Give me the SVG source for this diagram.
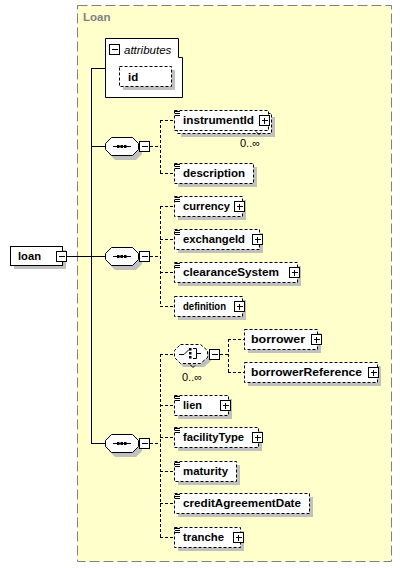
<svg xmlns="http://www.w3.org/2000/svg" width="402" height="568" viewBox="0 0 402 568">
<style>
.grp{fill:#FFFFCC;stroke:#808080;stroke-dasharray:10,4;stroke-width:1}
.sh{fill:#C0C0C0;stroke:none}
.el{fill:#fff;stroke:#000;stroke-dasharray:3,2;stroke-width:1}
.so{fill:#fff;stroke:#000;stroke-width:1}
.ln{stroke:#000;stroke-width:1;fill:none}
.dl{stroke:#000;stroke-width:1;fill:none;stroke-dasharray:3,2}
.t{font-family:"Liberation Sans",Arial,sans-serif;font-size:11.5px;font-weight:bold;fill:#000}
.it{font-family:"Liberation Sans",Arial,sans-serif;font-size:11.5px;font-style:italic;fill:#000}
.oc{font-family:"Liberation Sans",Arial,sans-serif;font-size:11px;fill:#000}
.ttl{font-family:"Liberation Sans",Arial,sans-serif;font-size:11.5px;font-weight:bold;fill:#808080}
</style>
<defs>
<g id="plus"><rect class="so" x="0.5" y="0.5" width="10" height="10"/><path class="ln" d="M3,5.5H9M5.5,3V9"/></g>
<g id="minus"><rect class="so" x="0.5" y="0.5" width="10" height="10"/><path class="ln" d="M3,5.5H9"/></g>
<g id="eq"><path class="ln" d="M1,1.5H6M1,3.5H6M1,5.5H6"/></g>
<g id="seq">
<polygon class="sh" points="10,4 31,4 37,10 37,17 31,23 10,23 4,17 4,10"/>
<polygon class="so" points="6.5,0.5 27.5,0.5 33.5,6.5 33.5,12.5 27.5,18.5 6.5,18.5 0.5,12.5 0.5,6.5"/>
<path class="ln" d="M8,9.5H26"/>
<rect x="12" y="8" width="2.5" height="3" fill="#000"/>
<rect x="15.5" y="8" width="2.5" height="3" fill="#000"/>
<rect x="19" y="8" width="2.5" height="3" fill="#000"/>
</g>
</defs>

<g id="Loan-group">
<rect class="grp" x="77.5" y="5.5" width="314" height="556"/>
<text class="ttl" x="83" y="21">Loan</text>
</g>

<g id="connectors">
<path class="ln" d="M67,256.5H105M91.5,68V443M91,68.5H105M91,146.5H105M91,443.5H105"/>
<path class="dl" d="M150,146.5H160.5M160.5,120V173M160,120.5H174M160,173.5H174"/>
<path class="dl" d="M150,256.5H160.5M160.5,206V306M160,206.5H174M160,239.5H174M160,272.5H174M160,306.5H174"/>
<path class="dl" d="M150,443.5H160.5M160.5,354V537M160,354.5H174M160,405.5H174M160,437.5H174M160,471.5H174M160,503.5H174M160,537.5H174"/>
<path class="dl" d="M220,354.5H228.5M228.5,339V372M228,339.5H244M228,372.5H244"/>
</g>

<g id="loan">
<rect class="sh" x="14" y="250" width="52" height="19"/>
<rect class="so" x="10.5" y="246.5" width="52" height="19"/>
<text class="t" x="18" y="260" textLength="23" lengthAdjust="spacingAndGlyphs">loan</text>
<use href="#minus" x="56" y="251"/>
</g>

<g id="attributes">
<path class="so" d="M105.5,38.5H178.5V57.5H182.5V97.5H105.5Z"/>
<use href="#minus" x="109" y="44"/>
<text class="it" x="124" y="54">attributes</text>
<rect class="sh" x="123" y="70" width="52" height="20"/>
<rect class="el" x="119.5" y="66.5" width="52" height="20"/>
<text class="t" x="128" y="81">id</text>
</g>

<g id="sequence1">
<use href="#seq" x="105" y="137"/>
<use href="#minus" x="139" y="141"/>
</g>
<g id="sequence2">
<use href="#seq" x="105" y="247"/>
<use href="#minus" x="139" y="251"/>
</g>
<g id="sequence3">
<use href="#seq" x="105" y="434"/>
<use href="#minus" x="139" y="438"/>
</g>

<g id="instrumentId">
<rect class="sh" x="181" y="117" width="94" height="20"/>
<rect class="el" x="177.5" y="113.5" width="94" height="20"/>
<rect class="el" x="174.5" y="110.5" width="94" height="20"/>
<use href="#eq" x="174" y="110"/>
<text class="t" x="183" y="124" textLength="71" lengthAdjust="spacingAndGlyphs">instrumentId</text>
<use href="#plus" x="259" y="115"/>
<path class="ln" d="M256,131.5L259,134.5L261,132.5"/>
<text class="oc" x="240" y="147">0..∞</text>
</g>

<g id="description">
<rect class="sh" x="178" y="167" width="79" height="20"/>
<rect class="el" x="174.5" y="163.5" width="79" height="20"/>
<use href="#eq" x="174" y="163"/>
<text class="t" x="183" y="177" textLength="62" lengthAdjust="spacingAndGlyphs">description</text>
</g>

<g id="currency">
<rect class="sh" x="178" y="200" width="68" height="20"/>
<rect class="el" x="174.5" y="196.5" width="68" height="20"/>
<use href="#eq" x="174" y="196"/>
<text class="t" x="183" y="210" textLength="47" lengthAdjust="spacingAndGlyphs">currency</text>
<use href="#plus" x="234" y="201"/>
</g>

<g id="exchangeId">
<rect class="sh" x="178" y="233" width="85" height="20"/>
<rect class="el" x="174.5" y="229.5" width="85" height="20"/>
<use href="#eq" x="174" y="229"/>
<text class="t" x="183" y="243" textLength="62" lengthAdjust="spacingAndGlyphs">exchangeId</text>
<use href="#plus" x="252" y="234"/>
</g>

<g id="clearanceSystem">
<rect class="sh" x="178" y="266" width="123" height="20"/>
<rect class="el" x="174.5" y="262.5" width="123" height="20"/>
<use href="#eq" x="174" y="262"/>
<text class="t" x="183" y="276" textLength="96" lengthAdjust="spacingAndGlyphs">clearanceSystem</text>
<use href="#plus" x="289" y="267"/>
</g>

<g id="definition">
<rect class="sh" x="178" y="300" width="68" height="20"/>
<rect class="el" x="174.5" y="296.5" width="68" height="20"/>
<text class="t" x="183" y="310" textLength="43" lengthAdjust="spacingAndGlyphs">definition</text>
<use href="#plus" x="234" y="301"/>
</g>

<g id="choice">
<polygon class="sh" points="183,348 204,348 211,354 211,361 204,367 183,367 178,361 178,354"/>
<polygon class="el" points="180.5,344.5 200.5,344.5 207.5,350.5 207.5,357.5 200.5,363.5 180.5,363.5 174.5,357.5 174.5,350.5"/>
<path class="ln" d="M179,354.5H184L189,349.5"/>
<rect x="189" y="348" width="2.5" height="2.5" fill="#000"/>
<rect x="189" y="352" width="2.5" height="2.5" fill="#000"/>
<rect x="189" y="356" width="2.5" height="2.5" fill="#000"/>
<path class="ln" d="M193,348.5H196.5V358.5H193M196,353.5H201"/>
<use href="#minus" x="209" y="349"/>
<path class="ln" d="M190,364.5L193,367.5L195,365.5"/>
<text class="oc" x="182" y="381">0..∞</text>
</g>

<g id="borrower">
<rect class="sh" x="248" y="333" width="73" height="20"/>
<rect class="el" x="244.5" y="329.5" width="73" height="20"/>
<text class="t" x="251" y="343" textLength="54" lengthAdjust="spacingAndGlyphs">borrower</text>
<use href="#plus" x="311" y="334"/>
</g>

<g id="borrowerReference">
<rect class="sh" x="248" y="366" width="133" height="20"/>
<rect class="el" x="244.5" y="362.5" width="133" height="20"/>
<text class="t" x="251" y="376" textLength="111" lengthAdjust="spacingAndGlyphs">borrowerReference</text>
<use href="#plus" x="368" y="367"/>
</g>

<g id="lien">
<rect class="sh" x="178" y="399" width="54" height="20"/>
<rect class="el" x="174.5" y="395.5" width="54" height="20"/>
<use href="#eq" x="174" y="395"/>
<text class="t" x="183" y="409" textLength="19" lengthAdjust="spacingAndGlyphs">lien</text>
<use href="#plus" x="220" y="400"/>
</g>

<g id="facilityType">
<rect class="sh" x="178" y="431" width="84" height="20"/>
<rect class="el" x="174.5" y="427.5" width="84" height="20"/>
<use href="#eq" x="174" y="427"/>
<text class="t" x="183" y="441" textLength="61" lengthAdjust="spacingAndGlyphs">facilityType</text>
<use href="#plus" x="252" y="432"/>
</g>

<g id="maturity">
<rect class="sh" x="178" y="465" width="62" height="20"/>
<rect class="el" x="174.5" y="461.5" width="62" height="20"/>
<use href="#eq" x="174" y="461"/>
<text class="t" x="183" y="475" textLength="45" lengthAdjust="spacingAndGlyphs">maturity</text>
</g>

<g id="creditAgreementDate">
<rect class="sh" x="178" y="497" width="135" height="20"/>
<rect class="el" x="174.5" y="493.5" width="135" height="20"/>
<use href="#eq" x="174" y="493"/>
<text class="t" x="183" y="507" textLength="118" lengthAdjust="spacingAndGlyphs">creditAgreementDate</text>
</g>

<g id="tranche">
<rect class="sh" x="178" y="531" width="66" height="20"/>
<rect class="el" x="174.5" y="527.5" width="66" height="20"/>
<use href="#eq" x="174" y="527"/>
<text class="t" x="183" y="541" textLength="41" lengthAdjust="spacingAndGlyphs">tranche</text>
<use href="#plus" x="233" y="532"/>
</g>
</svg>
